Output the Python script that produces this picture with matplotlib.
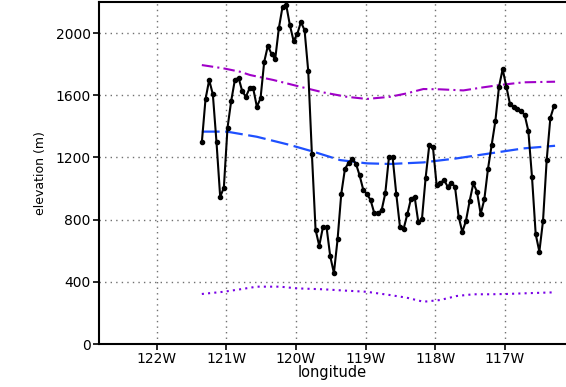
import numpy as np
import matplotlib
matplotlib.use("Agg")
import matplotlib.pyplot as plt

# terrain profile along the transect (m), evenly spaced in longitude
lon_start, lon_end = -121.353, -116.292
elev = [1297, 1574, 1698, 1606, 1297, 947, 1005, 1391, 1563, 1698,
        1713, 1627, 1590, 1644, 1644, 1526, 1580, 1815, 1918, 1865,
        1833, 2032, 2169, 2180, 2051, 1950, 1992, 2071, 2019, 1756,
        1222, 735, 632, 750, 750, 564, 457, 673, 965, 1125,
        1166, 1188, 1160, 1085, 992, 965, 926, 842, 842, 860,
        969, 1201, 1201, 965, 754, 741, 834, 934, 947, 785,
        804, 1069, 1280, 1265, 1022, 1033, 1057, 1012, 1037, 1012,
        819, 720, 793, 920, 1033, 980, 836, 930, 1127, 1280,
        1432, 1655, 1768, 1655, 1543, 1526, 1511, 1500, 1473, 1370,
        1072, 707, 594, 793, 1183, 1455, 1531]

# smooth reference levels
upper_lon = [-121.353, -121.043, -120.803, -120.660, -120.325, -119.845,
             -119.606, -119.270, -118.983, -118.648, -118.408, -118.169,
             -117.930, -117.595, -117.307, -117.068, -116.733, -116.277]
upper = [1794, 1773, 1751, 1730, 1698, 1644, 1618, 1590, 1576, 1590,
         1612, 1640, 1638, 1631, 1651, 1666, 1683, 1687]

mid_lon = [-121.353, -120.994, -120.563, -120.085, -119.750, -119.366,
           -118.983, -118.648, -118.169, -117.690, -117.211, -116.733,
           -116.277]
mid = [1366, 1366, 1333, 1280, 1237, 1183, 1162, 1158, 1168, 1194,
       1226, 1258, 1275]

lower_lon = [-121.353, -121.043, -120.803, -120.563, -120.228, -119.989,
             -119.606, -119.270, -118.983, -118.648, -118.408, -118.169,
             -117.930, -117.690, -117.451, -117.211, -116.971, -116.733,
             -116.325]
lower = [322, 336, 352, 369, 369, 358, 352, 343, 336, 315, 298, 272,
         283, 309, 320, 320, 322, 326, 332]

xticks = [-122, -121, -120, -119, -118, -117]
xtick_labels = ["122W", "121W", "120W", "119W", "118W", "117W"]
yticks = [0, 400, 800, 1200, 1600, 2000]

lon = np.linspace(lon_start, lon_end, len(elev))

fig = plt.figure(figsize=(5.66, 3.87), dpi=100)
ax = fig.add_axes([0.175, 0.111, 0.825, 0.884])

ax.plot(upper_lon, upper, color="#a000c8", lw=1.5, dashes=(5.5, 2, 1, 2))
ax.plot(mid_lon, mid, color="#1e50ff", lw=1.6, dashes=(8, 2.5))
ax.plot(lower_lon, lower, color="#7800e6", lw=1.5, dashes=(1, 2))
ax.plot(lon, elev, color="black", lw=1.5, marker="o", ms=3)

ax.set_xlim(-122.83, -116.12)
ax.set_ylim(0, 2200)
ax.set_xticks(xticks)
ax.set_xticklabels(xtick_labels)
ax.set_yticks(yticks)
ax.grid(True, color="#707070", lw=1, dashes=(1, 3))
ax.set_axisbelow(True)

for side in ["left", "bottom", "top"]:
    ax.spines[side].set_linewidth(1.5)
ax.spines["right"].set_visible(False)
ax.tick_params(direction="out", length=4, width=1.2, labelsize=10, pad=2)

ax.set_ylabel("elevation (m)", fontsize=9, labelpad=6)
ax.set_xlabel("longitude", fontsize=10.5, labelpad=-1)

fig.savefig("out.png", dpi=100)
